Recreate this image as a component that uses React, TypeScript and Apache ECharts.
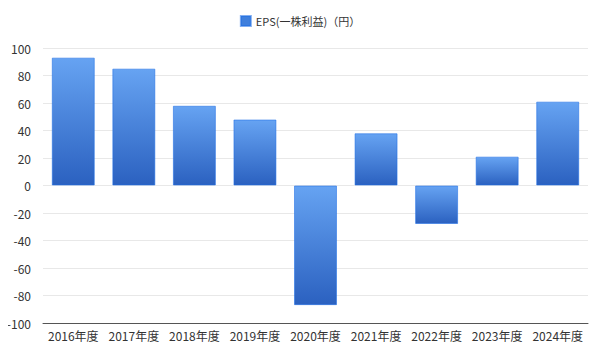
import React, { useEffect, useRef } from "react";
import * as echarts from "echarts";

const categories = ["2016年度", "2017年度", "2018年度", "2019年度", "2020年度", "2021年度", "2022年度", "2023年度", "2024年度"];
const epsValues = [93, 85, 58, 48, -87, 38, -28, 21, 61];
const seriesName = "EPS(一株利益)（円）";

export default function App() {
  const ref = useRef<HTMLDivElement>(null);
  useEffect(() => {
    if (!ref.current) return;
    const chart = echarts.init(ref.current, null, { renderer: "svg" });
    const font = "'Noto Sans CJK JP', 'Noto Sans', sans-serif";
    chart.setOption({
      animation: false,
      textStyle: { fontFamily: font },
      legend: {
        top: 10,
        left: "center",
        itemWidth: 10,
        itemHeight: 10,
        icon: "rect",
        textStyle: { fontSize: 11, color: "#333", fontFamily: font },
        data: [{ name: seriesName, itemStyle: { color: "#3f7fdc" } }],
      },
      grid: { left: 43, right: 12, top: 48, bottom: 31 },
      xAxis: {
        type: "category",
        data: categories,
        axisLine: { onZero: false, lineStyle: { color: "#555", width: 1 } },
        axisTick: { show: false },
        axisLabel: { color: "#333", fontSize: 12, margin: 6, interval: 0, fontFamily: font },
      },
      yAxis: {
        type: "value",
        min: -100,
        max: 100,
        interval: 20,
        axisLine: { show: false },
        axisTick: { show: false },
        axisLabel: { color: "#333", fontSize: 12, margin: 12, fontFamily: font },
        splitLine: { lineStyle: { color: "#e8e8e8" } },
      },
      series: [
        {
          name: seriesName,
          type: "bar",
          data: epsValues,
          barWidth: "71%",
          itemStyle: {
            color: new echarts.graphic.LinearGradient(0, 0, 0, 1, [
              { offset: 0, color: "#66a3f2" },
              { offset: 1, color: "#2b61c0" },
            ]),
            borderColor: "rgba(30,110,230,0.55)",
            borderWidth: 1,
          },
        },
      ],
    });
    return () => chart.dispose();
  }, []);
  return <div ref={ref} style={{ width: 600, height: 354, margin: -8 }} />;
}
